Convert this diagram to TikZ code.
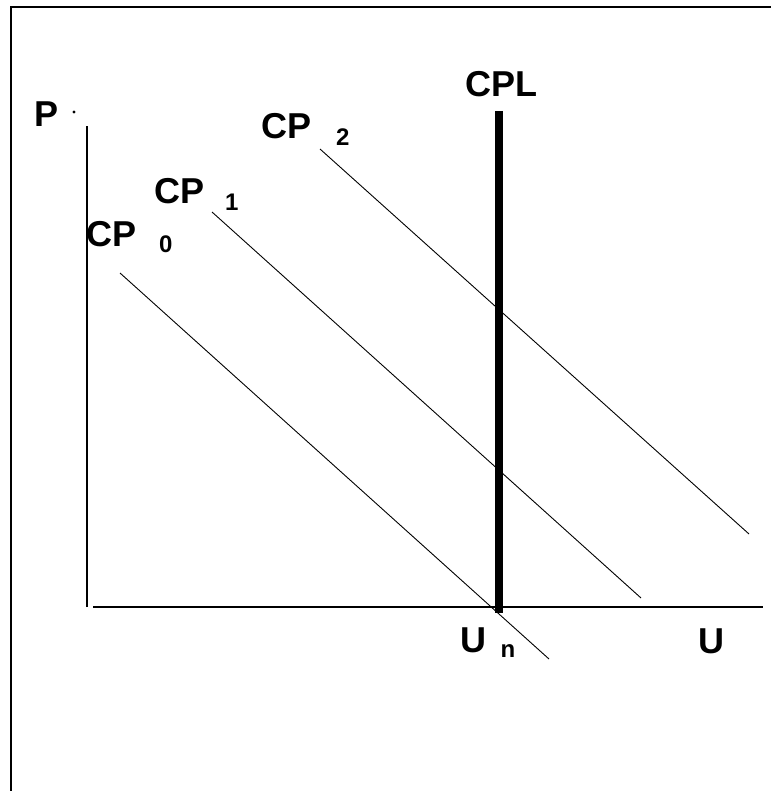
\documentclass[tikz,border=0pt]{standalone}
\usepackage{fontspec}
\setmainfont{Liberation Sans}
\usetikzlibrary{positioning}

\begin{document}
\begin{tikzpicture}[
		x=1pt, y=-1pt,
		marco/.style={
			line width=2pt
		},
		eje/.style={
			line width=1.2pt
		},
		curva/.style={
			line width=0.9pt
		},
		vertical/.style={
			line width=8pt
		},
		etiq/.style={
			inner sep=0pt,
			anchor=base west,
			font=\fontsize{36}{40}\selectfont\bfseries
		}
		]
		\useasboundingbox (0,0) rectangle (771,791);
		
		% Marco
		\draw[marco] (11,791) -- (11,7) -- (771,7);
		
		% Ejes
		\coordinate (origen) at (87,607);
		\coordinate (ytop) at (87,126);
		\coordinate (xini) at (93,607);
		\coordinate (xfin) at (763,607);
		
		\draw[eje] (origen) -- (ytop);
		\draw[eje] (xini) -- (xfin);
		
		\node[etiq] (p) at (34.5,127) {P};
		\fill (74,112) circle (1.6pt);
		
		\node[etiq] (u) at (698,653) {U};
		
		% Curvas de Phillips
		\coordinate (a0) at (120,273);
		\coordinate (b0) at (549,659);
		\coordinate (a1) at (212,212);
		\coordinate (b1) at (641,598);
		\coordinate (a2) at (320,149);
		\coordinate (b2) at (749,534);
		
		\draw[curva] (a0) -- (b0);
		\draw[curva] (a1) -- (b1);
		\draw[curva] (a2) -- (b2);
		
		\node[etiq] (cp0) at (86,247)
		{CP\hspace{23pt}\raisebox{-6pt}{\fontsize{24}{26}\selectfont 0}};
		
		\node[etiq] (cp1) at (154,204)
		{CP\hspace{21pt}\raisebox{-7pt}{\fontsize{24}{26}\selectfont 1}};
		
		\node[etiq] (cp2) at (261,139)
		{CP\hspace{25pt}\raisebox{-7pt}{\fontsize{24}{26}\selectfont 2}};
		
		% Curva de Phillips a largo plazo
		\coordinate (l0) at (499,111);
		\coordinate (l1) at (499,613);
		
		\draw[vertical] (l0) -- (l1);
		
		\node[etiq] (cpl) at (465,96.5) {CPL};
		
		\node[etiq] (un) at (460.5,652)
		{U\hspace{14pt}\raisebox{-5pt}{\fontsize{24}{26}\selectfont n}};
		
	\end{tikzpicture}
\end{document}
